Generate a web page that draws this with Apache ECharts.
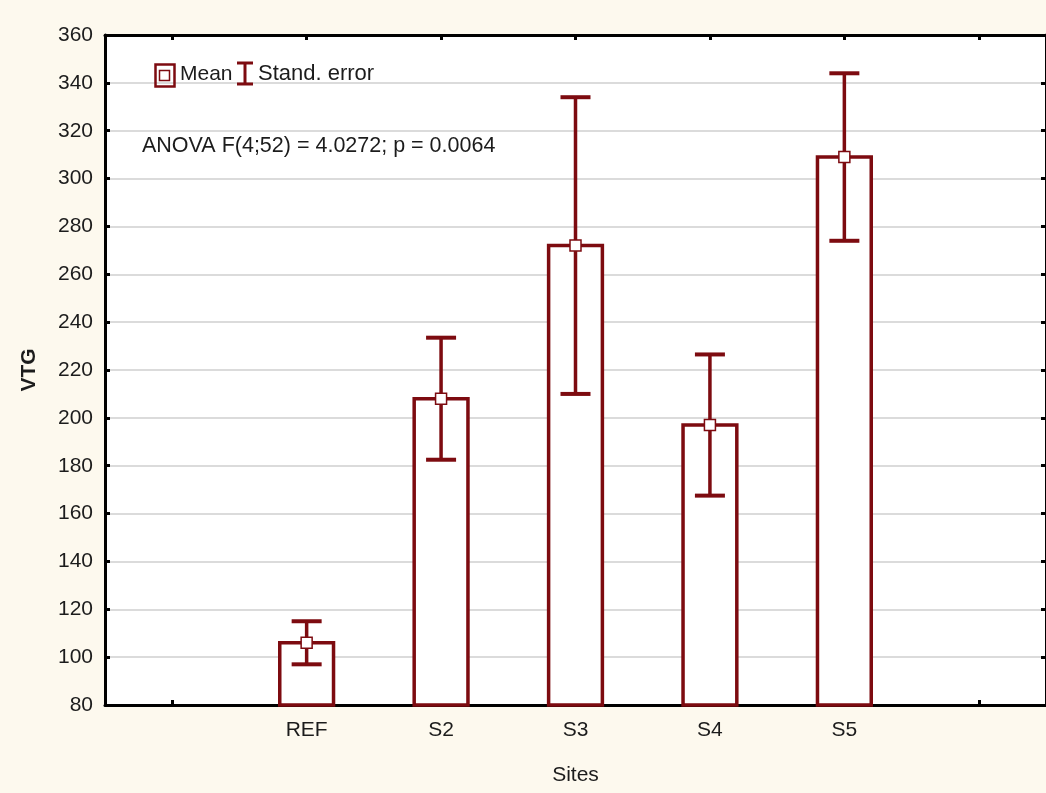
<!DOCTYPE html>
<html>
<head>
<meta charset="utf-8">
<script src="https://cdn.jsdelivr.net/npm/echarts@6/dist/echarts.min.js"></script>
<style>
  html, body { margin: 0; padding: 0; background: #fdf9ee; }
  #chart { width: 1046px; height: 793px; }
</style>
</head>
<body>
<div id="chart"></div>
<script>
// Site categories (empty slots pad both ends of the axis)
const categories = ['', 'REF', 'S2', 'S3', 'S4', 'S5', ''];
// Mean VTG per site and its standard error
const sites = ['REF', 'S2', 'S3', 'S4', 'S5'];
const means = [106, 208, 272, 197, 309];
const stdErrors = [9, 25.5, 62, 29.5, 35];
// Value axis range and tick step
const yMin = 80, yMax = 360, yStep = 20;

const RED = '#7d0b10';
const INK = '#1c1c1c';
const FONT = '"Liberation Sans", Arial, sans-serif';

const seriesData = sites.map((s, i) => [categories.indexOf(s), means[i], stdErrors[i]]);

const chart = echarts.init(document.getElementById('chart'));

// Bar from the axis floor up to the mean, whisker of ±1 SE, and a square mean marker
function renderItem(params, api) {
  const x = api.value(0), m = api.value(1), se = api.value(2);
  const top = api.coord([x, m]);
  const base = api.coord([x, yMin]);
  const hi = api.coord([x, m + se]);
  const lo = api.coord([x, m - se]);
  const bw = api.size([1, 0])[0] * 0.4;
  const capW = 30;
  const mk = 11;
  return {
    type: 'group',
    children: [
      { type: 'rect', shape: { x: top[0] - bw / 2, y: top[1], width: bw, height: base[1] - top[1] },
        style: { fill: '#ffffff', stroke: RED, lineWidth: 3.5 } },
      { type: 'line', shape: { x1: hi[0], y1: hi[1], x2: lo[0], y2: lo[1] },
        style: { stroke: RED, lineWidth: 3.5 } },
      { type: 'line', shape: { x1: hi[0] - capW / 2, y1: hi[1], x2: hi[0] + capW / 2, y2: hi[1] },
        style: { stroke: RED, lineWidth: 4 } },
      { type: 'line', shape: { x1: lo[0] - capW / 2, y1: lo[1], x2: lo[0] + capW / 2, y2: lo[1] },
        style: { stroke: RED, lineWidth: 4 } },
      { type: 'rect', shape: { x: top[0] - mk / 2, y: top[1] - mk / 2, width: mk, height: mk },
        style: { fill: '#ffffff', stroke: RED, lineWidth: 1.5 } }
    ]
  };
}

const axisLine = { show: true, lineStyle: { color: '#000', width: 3 } };
const tickIn = { show: true, inside: true, length: 5, lineStyle: { color: '#000', width: 3 } };

chart.setOption({
  backgroundColor: '#fdf9ee',
  animation: false,
  textStyle: { fontFamily: FONT },
  grid: { left: 105, top: 35, width: 945, height: 670, show: true, backgroundColor: '#ffffff', borderWidth: 0 },
  xAxis: [
    {
      type: 'category', data: categories, position: 'bottom', boundaryGap: true,
      axisLine: axisLine,
      axisTick: Object.assign({ alignWithLabel: true, interval: 0 }, tickIn),
      axisLabel: { interval: 0, fontSize: 21, color: INK, margin: 15, fontFamily: FONT },
      splitLine: { show: false },
      name: 'Sites', nameLocation: 'middle', nameGap: 60,
      nameTextStyle: { fontSize: 21, color: INK, fontFamily: FONT }
    },
    {
      type: 'category', data: categories, position: 'top', boundaryGap: true,
      axisLine: axisLine,
      axisTick: Object.assign({ alignWithLabel: true, interval: 0 }, tickIn),
      axisLabel: { show: false }, splitLine: { show: false }
    }
  ],
  yAxis: [
    {
      type: 'value', min: yMin, max: yMax, interval: yStep, position: 'left',
      axisLine: axisLine, axisTick: tickIn,
      axisLabel: { fontSize: 21, color: INK, margin: 12, fontFamily: FONT },
      splitLine: { show: true, lineStyle: { color: '#cfcfcf', width: 1.5 } },
      name: 'VTG', nameLocation: 'middle', nameGap: 65, nameRotate: 90,
      nameTextStyle: { fontSize: 21, fontWeight: 'bold', color: INK, fontFamily: FONT }
    },
    {
      type: 'value', min: yMin, max: yMax, interval: yStep, position: 'right',
      axisLine: axisLine, axisTick: tickIn,
      axisLabel: { show: false }, splitLine: { show: false }
    }
  ],
  series: [{
    type: 'custom',
    name: 'Mean',
    xAxisIndex: 0, yAxisIndex: 0,
    renderItem: renderItem,
    data: seriesData,
    z: 5
  }],
  graphic: [
    // legend: mean marker
    { type: 'rect', left: 153, top: 62, shape: { x: 0, y: 0, width: 19, height: 22 },
      style: { fill: 'none', stroke: RED, lineWidth: 2.5 }, z: 10 },
    { type: 'rect', left: 157, top: 68, shape: { x: 0, y: 0, width: 10, height: 10 },
      style: { fill: 'none', stroke: RED, lineWidth: 1.5 }, z: 10 },
    { type: 'text', x: 180, y: 74, style: { text: 'Mean', fontSize: 21, fontFamily: FONT, fill: INK, verticalAlign: 'middle' }, z: 10 },
    // legend: standard error whisker
    { type: 'line', shape: { x1: 245, y1: 63, x2: 245, y2: 84 }, style: { stroke: RED, lineWidth: 3 }, z: 10 },
    { type: 'line', shape: { x1: 237, y1: 63, x2: 253, y2: 63 }, style: { stroke: RED, lineWidth: 3 }, z: 10 },
    { type: 'line', shape: { x1: 237, y1: 84, x2: 253, y2: 84 }, style: { stroke: RED, lineWidth: 3 }, z: 10 },
    { type: 'text', x: 258, y: 74, style: { text: 'Stand. error', fontSize: 22, fontFamily: FONT, fill: INK, verticalAlign: 'middle' }, z: 10 },
    // ANOVA annotation
    { type: 'text', x: 142, y: 146, style: { text: 'ANOVA F(4;52) = 4.0272; p = 0.0064', fontSize: 21.5, fontFamily: FONT, fill: INK, verticalAlign: 'middle' }, z: 10 }
  ]
});
</script>
</body>
</html>
